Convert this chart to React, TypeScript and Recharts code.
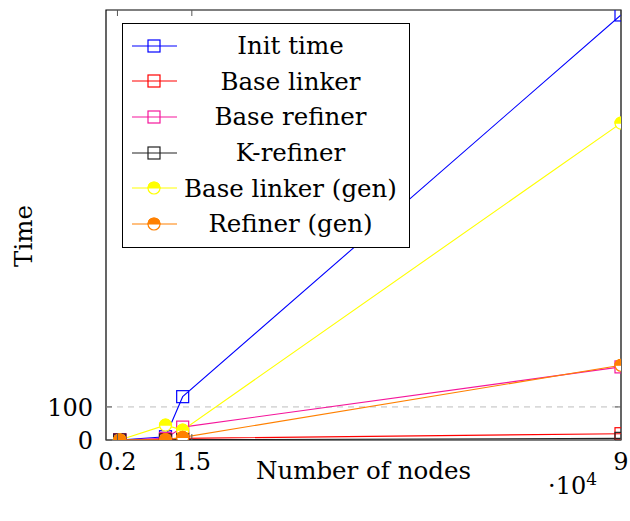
import React from "react";
import {
  LineChart,
  Line,
  XAxis,
  YAxis,
  Legend,
  ReferenceLine,
  ReferenceArea,
} from "recharts";

// number of nodes, in units of 10^4
const NODES = [0.24, 1.04, 1.34, 9];
const INIT_TIME = [0, 10, 131, 1285];
const BASE_LINKER = [0, 1, 5, 19];
const BASE_REFINER = [0, 5, 39, 221];
const K_REFINER = [0, 0, 1, 5];
const BASE_LINKER_GEN = [0, 45, 30, 958];
const REFINER_GEN = [0, 1, 8, 226];

const X_TICKS = [0.2, 1.5, 9];
const Y_TICKS = [0, 100];
const X_DOMAIN: [number, number] = [0, 9];
const Y_DOMAIN: [number, number] = [0, 1300];

const WIDTH = 630;
const HEIGHT = 521;
const MARGIN = { top: 10, right: 9, bottom: 0, left: 0 };
const Y_AXIS_W = 106;
const X_AXIS_H = 81;
const PLOT_TOP = MARGIN.top;
const PLOT_RIGHT = WIDTH - MARGIN.right;

const FONT = "'DejaVu Serif', 'Liberation Serif', serif";

type Mark = "square" | "halfcircle";

const SERIES: { key: string; name: string; color: string; mark: Mark }[] = [
  { key: "init", name: "Init time", color: "#0000ff", mark: "square" },
  { key: "baseLinker", name: "Base linker", color: "#ff0000", mark: "square" },
  { key: "baseRefiner", name: "Base refiner", color: "#f5169b", mark: "square" },
  { key: "kRefiner", name: "K-refiner", color: "#222222", mark: "square" },
  { key: "baseLinkerGen", name: "Base linker (gen)", color: "#ffff00", mark: "halfcircle" },
  { key: "refinerGen", name: "Refiner (gen)", color: "#ff8000", mark: "halfcircle" },
];

const data = NODES.map((x, i) => ({
  x,
  init: INIT_TIME[i],
  baseLinker: BASE_LINKER[i],
  baseRefiner: BASE_REFINER[i],
  kRefiner: K_REFINER[i],
  baseLinkerGen: BASE_LINKER_GEN[i],
  refinerGen: REFINER_GEN[i],
}));

function Marker({ cx, cy, color, mark }: { cx: number; cy: number; color: string; mark: Mark }) {
  if (mark === "square") {
    return (
      <rect
        x={cx - 6}
        y={cy - 6}
        width={12}
        height={12}
        fill="none"
        stroke={color}
        strokeWidth={1.2}
      />
    );
  }
  const r = 6;
  return (
    <g>
      <circle cx={cx} cy={cy} r={r} fill="#fff" stroke={color} strokeWidth={1.2} />
      <path
        d={`M ${cx - r} ${cy} A ${r} ${r} 0 0 1 ${cx + r} ${cy} Z`}
        fill={color}
        stroke={color}
        strokeWidth={1.2}
      />
    </g>
  );
}

const renderDot = (color: string, mark: Mark) => (p: any) => {
  if (p.cx == null || p.cy == null) return <g key={p.index} />;
  return (
    <g key={p.index}>
      <Marker cx={p.cx} cy={p.cy} color={color} mark={mark} />
    </g>
  );
};

function XTick(props: any) {
  const { x, y, payload } = props;
  return (
    <g>
      <line x1={x} x2={x} y1={y} y2={y - 6} stroke="#555" />
      <line x1={x} x2={x} y1={PLOT_TOP} y2={PLOT_TOP + 6} stroke="#555" />
      <text x={x} y={y + 30} textAnchor="middle" fontSize={24} fontFamily={FONT} fill="#000">
        {payload.value}
      </text>
    </g>
  );
}

function YTick(props: any) {
  const { x, y, payload } = props;
  return (
    <g>
      <line x1={x} x2={x + 6} y1={y} y2={y} stroke="#555" />
      <line x1={PLOT_RIGHT - 6} x2={PLOT_RIGHT} y1={y} y2={y} stroke="#555" />
      <text x={x - 13} y={y + 9} textAnchor="end" fontSize={24} fontFamily={FONT} fill="#000">
        {payload.value}
      </text>
    </g>
  );
}

const renderXLabel = (props: any) => {
  const vb = props.viewBox || { x: 106, y: 440, width: 515, height: 81 };
  return (
    <g fontFamily={FONT} fill="#000">
      <text x={vb.x + vb.width / 2} y={vb.y + 39} textAnchor="middle" fontSize={24.5}>
        Number of nodes
      </text>
      <text x={vb.x + vb.width - 73} y={vb.y + 54} fontSize={24}>
        ·10
        <tspan dy={-9} fontSize={17}>
          4
        </tspan>
      </text>
    </g>
  );
};

const renderYLabel = () => (
  <text
    x={23}
    y={236}
    transform="rotate(-90, 23, 236)"
    textAnchor="middle"
    dominantBaseline="central"
    fontSize={24.5}
    fontFamily={FONT}
    fill="#000"
  >
    Time
  </text>
);

function LegendBox() {
  return (
    <div
      style={{
        width: 288,
        height: 225,
        border: "1px solid #000",
        background: "#fff",
        boxSizing: "border-box",
        paddingTop: 4,
        fontFamily: FONT,
      }}
    >
      {SERIES.map((s) => (
        <div key={s.key} style={{ display: "flex", alignItems: "center", height: 35.6 }}>
          <svg width={56} height={20} style={{ flex: "none" }}>
            <line x1={9} x2={54} y1={10} y2={10} stroke={s.color} strokeWidth={1.2} />
            <Marker cx={31} cy={10} color={s.color} mark={s.mark} />
          </svg>
          <div
            style={{
              flex: 1,
              textAlign: "center",
              fontSize: 24.5,
              paddingRight: 7,
              color: "#000",
              whiteSpace: "nowrap",
            }}
          >
            {s.name}
          </div>
        </div>
      ))}
    </div>
  );
}

export default function App() {
  return (
    <div
      style={{
        position: "absolute",
        left: 0,
        top: 0,
        width: WIDTH,
        height: HEIGHT,
        background: "#fff",
      }}
    >
      <LineChart width={WIDTH} height={HEIGHT} data={data} margin={MARGIN}>
        <XAxis
          dataKey="x"
          type="number"
          domain={X_DOMAIN}
          ticks={X_TICKS}
          allowDataOverflow
          axisLine={false}
          tickLine={false}
          tickSize={0}
          tickMargin={0}
          height={X_AXIS_H}
          tick={<XTick />}
          label={renderXLabel}
          interval={0}
        />
        <YAxis
          type="number"
          domain={Y_DOMAIN}
          ticks={Y_TICKS}
          allowDataOverflow
          axisLine={false}
          tickLine={false}
          tickSize={0}
          tickMargin={0}
          width={Y_AXIS_W}
          tick={<YTick />}
          label={renderYLabel}
          interval={0}
        />
        <ReferenceLine y={100} stroke="#bdbdbd" strokeDasharray="6 5" strokeWidth={1} />
        {SERIES.map((s) => (
          <Line
            key={s.key}
            type="linear"
            dataKey={s.key}
            name={s.name}
            stroke={s.color}
            strokeWidth={1.1}
            dot={renderDot(s.color, s.mark)}
            activeDot={false}
            isAnimationActive={false}
          />
        ))}
        <ReferenceArea
          x1={X_DOMAIN[0]}
          x2={X_DOMAIN[1]}
          y1={Y_DOMAIN[0]}
          y2={Y_DOMAIN[1]}
          fill="none"
          fillOpacity={0}
          stroke="#000"
          strokeWidth={1.2}
        />
        <Legend
          content={<LegendBox />}
          layout="vertical"
          align="center"
          verticalAlign="middle"
          wrapperStyle={{ left: 122, top: 23, width: 288 }}
        />
      </LineChart>
    </div>
  );
}
